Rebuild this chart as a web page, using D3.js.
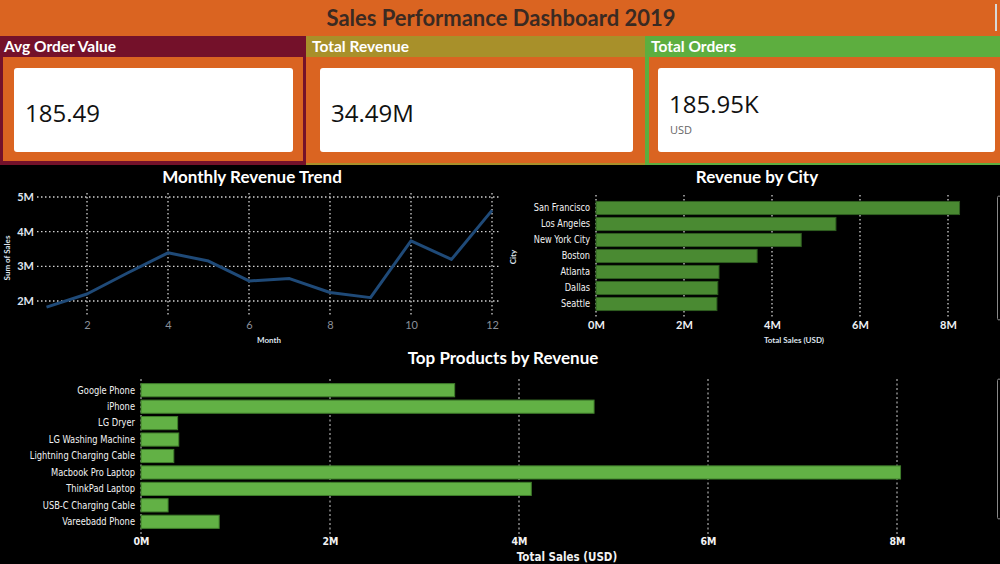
<!DOCTYPE html>
<html>
<head>
<meta charset="utf-8">
<script src="https://cdn.jsdelivr.net/npm/d3@7/dist/d3.min.js"></script>
<style>
  html, body { margin: 0; padding: 0; background: #000; }
  svg { display: block; }
</style>
</head>
<body>
<svg id="chart" width="1000" height="564"></svg>
<script>
// ---------------- DATA ----------------
const dashboardTitle = "Sales Performance Dashboard 2019";

const kpiTitles = ["Avg Order Value", "Total Revenue", "Total Orders"];
const kpiValues = ["185.49", "34.49M", "185.95K"];
const kpiSubtitles = ["", "", "USD"];

const months = [1, 2, 3, 4, 5, 6, 7, 8, 9, 10, 11, 12];
const monthlySales = [1822257, 2202022, 2807100, 3390670, 3152607, 2577802,
                      2647776, 2244468, 2097560, 3736727, 3199603, 4613443];
const monthTicks = [2, 4, 6, 8, 10, 12];
const salesTicks = [2e6, 3e6, 4e6, 5e6];

const cities = ["San Francisco", "Los Angeles", "New York City", "Boston", "Atlanta", "Dallas", "Seattle"];
const citySales = [8262204, 5452571, 4664317, 3661642, 2795499, 2767975, 2747755];
const cityTicks = [0, 2e6, 4e6, 6e6, 8e6];

const products = ["Google Phone", "iPhone", "LG Dryer", "LG Washing Machine", "Lightning Charging Cable",
                  "Macbook Pro Laptop", "ThinkPad Laptop", "USB-C Charging Cable", "Vareebadd Phone"];
const productSales = [3319200, 4794300, 387600, 399600, 347094, 8037600, 4129958, 286501, 827200];
const productTicks = [0, 2e6, 4e6, 6e6, 8e6];

// ---------------- STYLE ----------------
const ORANGE = "#DA6421";
const MAROON = "#74112A";
const OLIVE = "#A8902A";
const GREEN = "#5DAE3F";
const fmtM = d => (d / 1e6) + "M";
const HEAD = "Lato, 'Open Sans', sans-serif";
const NARROW = "'Liberation Sans Narrow', 'Arial Narrow', 'DejaVu Sans Condensed', sans-serif";

const svg = d3.select("#chart");
svg.append("rect").attr("width", 1000).attr("height", 564).attr("fill", "#000");

// ---------------- HEADER ----------------
svg.append("rect").attr("x", 0).attr("y", 0).attr("width", 1000).attr("height", 36).attr("fill", ORANGE);
svg.append("text").attr("x", 501).attr("y", 26).attr("text-anchor", "middle")
  .attr("font-family", HEAD).attr("font-weight", "bold").attr("font-size", 22)
  .attr("fill", "#3a2a22").text(dashboardTitle);
svg.append("rect").attr("x", 995).attr("y", 4).attr("width", 2).attr("height", 27).attr("fill", "#d8d8d8");

// ---------------- KPI CARDS ----------------
const cards = [
  { x: 0, w: 306, col: MAROON, box: [14, 293] },
  { x: 306, w: 339, col: OLIVE, box: [320, 633] },
  { x: 645, w: 355, col: GREEN, box: [658, 995] }
];
const cardG = svg.append("g");
cards.forEach((c, i) => {
  const g = cardG.append("g");
  g.append("rect").attr("x", c.x).attr("y", 36).attr("width", c.w).attr("height", 129).attr("fill", c.col);
  if (i === 0) {
    g.append("rect").attr("x", c.x + 3).attr("y", 57).attr("width", c.w - 6).attr("height", 104).attr("fill", ORANGE);
  } else if (i === 1) {
    g.append("rect").attr("x", c.x).attr("y", 57).attr("width", c.w).attr("height", 106).attr("fill", ORANGE);
  } else {
    g.append("rect").attr("x", c.x + 4).attr("y", 57).attr("width", c.w - 4).attr("height", 106).attr("fill", ORANGE);
  }
  g.append("text").attr("x", c.x + (i === 0 ? 4 : 6)).attr("y", 52)
    .attr("font-family", HEAD).attr("font-weight", "bold").attr("font-size", 15.5)
    .attr("fill", "#fff").text(kpiTitles[i]);
  g.append("rect").attr("x", c.box[0]).attr("y", 68).attr("width", c.box[1] - c.box[0]).attr("height", 84)
    .attr("rx", 3).attr("fill", "#fff");
  const hasSub = kpiSubtitles[i] !== "";
  g.append("text").attr("x", c.box[0] + 11).attr("y", hasSub ? 113 : 122)
    .attr("font-family", "'Open Sans', sans-serif").attr("font-size", 24)
    .attr("fill", "#111").text(kpiValues[i]);
  if (hasSub) {
    g.append("text").attr("x", c.box[0] + 12).attr("y", 134)
      .attr("font-family", "'Open Sans', sans-serif").attr("font-size", 11)
      .attr("fill", "#666").text(kpiSubtitles[i]);
  }
});

// helpers
function chartTitle(x, y, t) {
  svg.append("text").attr("x", x).attr("y", y).attr("text-anchor", "middle")
    .attr("font-family", HEAD).attr("font-weight", "bold").attr("font-size", 17)
    .attr("fill", "#fff").text(t);
}
function smallLabel(x, y, t, rot) {
  const s = svg.append("text").attr("text-anchor", "middle")
    .attr("font-family", HEAD).attr("font-weight", "bold").attr("font-size", 8)
    .attr("fill", "#dfe4ee").text(t);
  if (rot) s.attr("transform", `translate(${x},${y}) rotate(-90)`);
  else s.attr("x", x).attr("y", y);
}
const DOT = "1.5,2.5";

// ---------------- MONTHLY REVENUE TREND ----------------
chartTitle(252, 183, "Monthly Revenue Trend");
const xM = d3.scaleLinear().domain([2, 12]).range([87, 492]);
const yM = d3.scaleLinear().domain([2e6, 5e6]).range([301, 197]);
const lg = svg.append("g");
lg.selectAll("line.h").data(salesTicks).join("line")
  .attr("x1", 37).attr("x2", 500).attr("y1", d => yM(d)).attr("y2", d => yM(d))
  .attr("stroke", "#d0d0d0").attr("stroke-width", 1.3).attr("stroke-dasharray", DOT);
lg.selectAll("line.v").data(monthTicks).join("line")
  .attr("x1", d => xM(d)).attr("x2", d => xM(d)).attr("y1", 193).attr("y2", 317)
  .attr("stroke", "#d0d0d0").attr("stroke-width", 1.3).attr("stroke-dasharray", DOT);
lg.append("path").datum(months.map((m, i) => [m, monthlySales[i]]))
  .attr("fill", "none").attr("stroke", "#1F4A78").attr("stroke-width", 3)
  .attr("stroke-linejoin", "round")
  .attr("d", d3.line().x(d => xM(d[0])).y(d => yM(d[1])));
const yAxM = lg.append("g").attr("transform", "translate(34,0)")
  .call(d3.axisLeft(yM).tickValues(salesTicks).tickFormat(fmtM).tickSize(0).tickPadding(0));
yAxM.select(".domain").remove();
yAxM.selectAll("text").attr("font-family", HEAD).attr("font-weight", "bold").attr("font-size", 11)
  .attr("fill", "#dfe4ee");
const xAxM = lg.append("g").attr("transform", "translate(0,321)")
  .call(d3.axisBottom(xM).tickValues(monthTicks).tickSize(0).tickPadding(0));
xAxM.select(".domain").remove();
xAxM.selectAll("text").attr("font-family", HEAD).attr("font-size", 11).attr("fill", "#8a8f99");
smallLabel(269, 343, "Month");
smallLabel(10, 258, "Sum of Sales", true);

// ---------------- REVENUE BY CITY ----------------
chartTitle(757, 183, "Revenue by City");
const xC = d3.scaleLinear().domain([0, 8e6]).range([596, 948]);
const yC = d3.scaleBand().domain(cities).range([200, 312]).paddingInner(0.18).paddingOuter(0.09);
const cg = svg.append("g");
cg.selectAll("line.v").data(cityTicks).join("line")
  .attr("x1", d => xC(d)).attr("x2", d => xC(d)).attr("y1", 195).attr("y2", 318)
  .attr("stroke", "#d0d0d0").attr("stroke-width", 1.3).attr("stroke-dasharray", DOT);
cg.selectAll("rect.bar").data(cities).join("rect")
  .attr("x", xC(0)).attr("y", d => yC(d)).attr("width", (d, i) => xC(citySales[i]) - xC(0))
  .attr("height", yC.bandwidth()).attr("fill", "#4A8A32").attr("stroke", "#2f5e20").attr("stroke-width", 1);
const yAxC = cg.append("g").attr("transform", "translate(590,0)")
  .call(d3.axisLeft(yC).tickSize(0).tickPadding(0));
yAxC.select(".domain").remove();
yAxC.selectAll("text").attr("font-family", NARROW).attr("font-size", 10.5).attr("fill", "#f2f2f2")
  .attr("transform", "scale(0.87,1)");
const xAxC = cg.append("g").attr("transform", "translate(0,321)")
  .call(d3.axisBottom(xC).tickValues(cityTicks).tickFormat(fmtM).tickSize(0).tickPadding(0));
xAxC.select(".domain").remove();
xAxC.selectAll("text").attr("font-family", HEAD).attr("font-weight", "bold").attr("font-size", 11).attr("fill", "#eef0f4");
smallLabel(794, 343, "Total Sales (USD)");
smallLabel(516, 257, "City", true);
svg.append("rect").attr("x", 997.5).attr("y", 196).attr("width", 3).attr("height", 124).attr("rx", 1.5)
  .attr("fill", "none").attr("stroke", "#888").attr("stroke-width", 1);

// ---------------- TOP PRODUCTS ----------------
chartTitle(503, 364, "Top Products by Revenue");
const xP = d3.scaleLinear().domain([0, 8e6]).range([141, 897]);
const yP = d3.scaleBand().domain(products).range([382, 530]).paddingInner(0.2).paddingOuter(0.1);
const pg = svg.append("g");
pg.selectAll("line.v").data(productTicks).join("line")
  .attr("x1", d => xP(d)).attr("x2", d => xP(d)).attr("y1", 379).attr("y2", 538)
  .attr("stroke", "#d0d0d0").attr("stroke-width", 1).attr("stroke-dasharray", "2,2.5");
pg.selectAll("rect.bar").data(products).join("rect")
  .attr("x", xP(0)).attr("y", d => yP(d)).attr("width", (d, i) => xP(productSales[i]) - xP(0))
  .attr("height", yP.bandwidth()).attr("fill", "#62B145").attr("stroke", "#3f7d2b").attr("stroke-width", 1);
const yAxP = pg.append("g").attr("transform", "translate(135,0)")
  .call(d3.axisLeft(yP).tickSize(0).tickPadding(0));
yAxP.select(".domain").remove();
yAxP.selectAll("text").attr("font-family", NARROW).attr("font-size", 10.5).attr("fill", "#f2f2f2")
  .attr("transform", "scale(0.88,1)");
const xAxP = pg.append("g").attr("transform", "translate(0,538)")
  .call(d3.axisBottom(xP).tickValues(productTicks).tickFormat(fmtM).tickSize(0).tickPadding(0));
xAxP.select(".domain").remove();
xAxP.selectAll("text").attr("font-family", NARROW).attr("font-weight", "bold").attr("font-size", 10.5).attr("fill", "#f2f2f2");
svg.append("text").attr("x", 567).attr("y", 561).attr("text-anchor", "middle")
  .attr("font-family", NARROW).attr("font-weight", "bold").attr("font-size", 11.5)
  .attr("fill", "#f2f2f2").text("Total Sales (USD)");
svg.append("rect").attr("x", 997.5).attr("y", 379).attr("width", 3).attr("height", 140).attr("rx", 1.5)
  .attr("fill", "none").attr("stroke", "#888").attr("stroke-width", 1);
</script>
</body>
</html>
